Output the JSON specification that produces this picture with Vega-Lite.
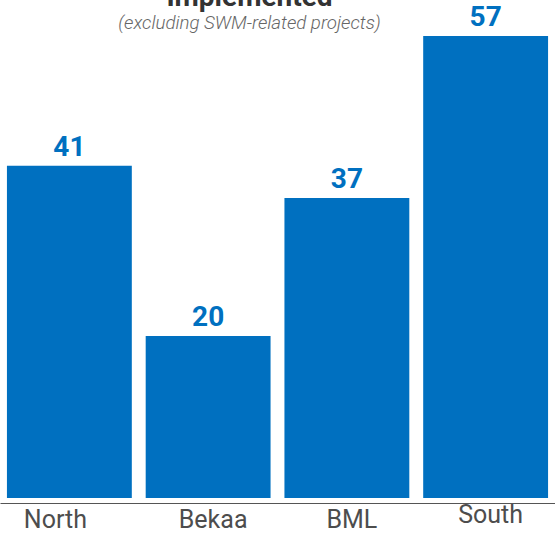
{
  "$schema": "https://vega.github.io/schema/vega-lite/v6.json",
  "width": 555,
  "height": 462,
  "autosize": {"type": "none"},
  "padding": {"top": 36, "left": 0, "right": 0, "bottom": 36},
  "background": "white",
  "config": {"view": {"stroke": null}, "font": "Roboto"},
  "title": {
    "text": "Implemented",
    "subtitle": "(excluding SWM-related projects)",
    "anchor": "middle",
    "dx": -28,
    "offset": -29,
    "font": "Roboto",
    "fontSize": 28,
    "fontWeight": "bold",
    "color": "#333333",
    "subtitleFont": "Roboto",
    "subtitleFontSize": 18.7,
    "subtitleFontStyle": "italic",
    "subtitleFontWeight": 300,
    "subtitleColor": "#666666",
    "subtitlePadding": 2
  },
  "data": {
    "values": [
      {"region": "North", "count": 41},
      {"region": "Bekaa", "count": 20},
      {"region": "BML", "count": 37},
      {"region": "South", "count": 57}
    ]
  },
  "encoding": {
    "x": {
      "field": "region",
      "type": "nominal",
      "sort": null,
      "scale": {"paddingInner": 0.1, "paddingOuter": 0.05},
      "axis": {
        "title": null,
        "labelAngle": 0,
        "ticks": false,
        "offset": 5,
        "domainColor": "#555555",
        "domainWidth": 1.2,
        "labelFont": "Roboto",
        "labelFontSize": 25,
        "labelColor": "#4d4d4d",
        "labelPadding": {"expr": "datum.value == 'South' ? -1 : 4"},
        "labelOffset": {"expr": "datum.value == 'North' ? -14 : 5"}
      }
    },
    "y": {
      "field": "count",
      "type": "quantitative",
      "scale": {"domain": [0, 57], "nice": false},
      "axis": null
    }
  },
  "layer": [
    {"mark": {"type": "bar", "color": "#0070C0"}},
    {
      "mark": {
        "type": "text",
        "baseline": "alphabetic",
        "dy": -10,
        "fontSize": 28,
        "fontWeight": "bold",
        "font": "Roboto",
        "color": "#0070C0"
      },
      "encoding": {"text": {"field": "count", "type": "quantitative"}}
    }
  ]
}
